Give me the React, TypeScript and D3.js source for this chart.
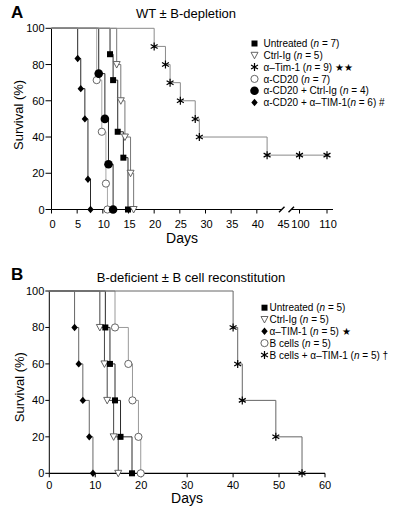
import React from "react";
import * as d3 from "d3";

// ---------- Panel A data (WT ± B-depletion) ----------
const untreatedADays = [11.4, 12, 12.9, 14, 14.9];
const untreatedASurv = [85.7, 71.4, 42.9, 28.6, 0];
const ctrlADays = [12.7, 13.5, 14.3, 15.4, 16];
const ctrlASurv = [80, 60, 40, 20, 0];
const tim1ADays = [20, 22.2, 23.1, 25.1, 28, 28.8, 42];
const tim1ASurv = [90, 80, 70, 60, 50, 40, 30];
const tim1ACensorDays = [100, 110];
const cd20ADays = [8.8, 9.8, 10.6, 10.9];
const cd20ASurv = [71.4, 42.9, 14.3, 0];
const cd20CtrlADays = [9.2, 10.4, 11.1, 12];
const cd20CtrlASurv = [75, 50, 25, 0];
const cd20TimADays = [5.1, 5.7, 6.5, 7.1, 7.6];
const cd20TimASurv = [83.3, 66.7, 50, 16.7, 0];

const xTicksA = [0, 5, 10, 15, 20, 25, 30, 35, 40, 45, 100, 110];
const yTicks = [0, 20, 40, 60, 80, 100];

// ---------- Panel B data (B-deficient ± B cell reconstitution) ----------
const untreatedBDays = [12.2, 13.2, 14.3, 15.5, 18];
const ctrlBDays = [11, 12, 12.6, 14, 15];
const timBDays = [5.5, 6.4, 7.3, 8.7, 9.5];
const bcellBDays = [14.3, 17.2, 18.1, 19.4, 19.9];
const bcellTimBDays = [40, 41, 42, 49.3, 55];
const survB = [80, 60, 40, 20, 0];
const xTicksB = [0, 10, 20, 30, 40, 50, 60];

const FONT = "'Liberation Sans', Arial, Helvetica, sans-serif";
const DARK = "#2a2a2a";
const MID = "#777";
const LIGHT = "#a8a8a8";

type Shape = "square" | "triangle" | "asterisk" | "circle" | "dot" | "diamond";

function Marker({ shape, x, y, big }: { shape: Shape; x: number; y: number; big?: boolean }) {
  switch (shape) {
    case "square":
      return <rect x={x - 3} y={y - 3} width={6} height={6} fill="#000" />;
    case "triangle":
      return (
        <path
          d={`M${x - 3.5},${y - 3} L${x + 3.5},${y - 3} L${x},${y + 3.5} Z`}
          fill="#fff"
          stroke="#555"
          strokeWidth={0.9}
        />
      );
    case "circle":
      return <circle cx={x} cy={y} r={3.6} fill="#fff" stroke="#555" strokeWidth={0.9} />;
    case "dot":
      return <circle cx={x} cy={y} r={big ? 4.3 : 3.8} fill="#000" />;
    case "diamond":
      return <path d={`M${x},${y - 3.7} L${x + 3.2},${y} L${x},${y + 3.7} L${x - 3.2},${y} Z`} fill="#000" />;
    case "asterisk": {
      const r = 4;
      const lines = [90, 30, 150].map((a) => {
        const rad = (a * Math.PI) / 180;
        const dx = r * Math.cos(rad);
        const dy = r * Math.sin(rad);
        return `M${x - dx},${y - dy} L${x + dx},${y + dy}`;
      });
      return <path d={lines.join(" ")} stroke="#000" strokeWidth={1.2} fill="none" />;
    }
  }
  return null;
}

type Series = {
  days: number[];
  surv: number[];
  shape: Shape;
  color: string;
  extra?: number[];
  extraSurv?: number;
  big?: boolean;
};

function Curves({
  series,
  x,
  y,
}: {
  series: Series[];
  x: (v: number) => number;
  y: (v: number) => number;
}) {
  const line = d3
    .line<[number, number]>()
    .x((d) => x(d[0]))
    .y((d) => y(d[1]))
    .curve(d3.curveStepAfter);
  return (
    <g>
      {series.map((s, i) => {
        const pts: [number, number][] = [[0, 100]];
        s.days.forEach((d, j) => pts.push([d, s.surv[j]]));
        if (s.extra) s.extra.forEach((d) => pts.push([d, s.extraSurv as number]));
        return <path key={"l" + i} d={line(pts) || ""} fill="none" stroke={s.color} strokeWidth={1} />;
      })}
      {series.map((s, i) => (
        <g key={"m" + i}>
          {s.days.map((d, j) => (
            <Marker key={j} shape={s.shape} x={x(d)} y={y(s.surv[j])} big={s.big} />
          ))}
          {s.extra &&
            s.extra.map((d, j) => (
              <Marker key={"e" + j} shape={s.shape} x={x(d)} y={y(s.extraSurv as number)} />
            ))}
        </g>
      ))}
    </g>
  );
}

function NLabel({ x, y, pre, n, post }: { x: number; y: number; pre: string; n: number; post?: string }) {
  return (
    <text x={x} y={y} fontSize={10} fontFamily={FONT} fill="#000">
      {pre}(<tspan fontStyle="italic">n</tspan> = {n}){post || ""}
    </text>
  );
}

export default function App() {
  // Panel A scales
  const xA = d3.scaleLinear().domain([0, 45, 100, 110]).range([51.5, 282.5, 299.5, 327]);
  const yA = d3.scaleLinear().domain([0, 100]).range([209.5, 28.3]);
  // Panel B scales
  const xB = d3.scaleLinear().domain([0, 60]).range([49.3, 325]);
  const yB = d3.scaleLinear().domain([0, 100]).range([473.3, 291]);

  const seriesA: Series[] = [
    { days: cd20TimADays, surv: cd20TimASurv, shape: "diamond", color: DARK },
    { days: cd20ADays, surv: cd20ASurv, shape: "circle", color: LIGHT },
    { days: cd20CtrlADays, surv: cd20CtrlASurv, shape: "dot", color: DARK, big: true },
    { days: untreatedADays, surv: untreatedASurv, shape: "square", color: DARK },
    { days: ctrlADays, surv: ctrlASurv, shape: "triangle", color: MID },
    {
      days: tim1ADays,
      surv: tim1ASurv,
      shape: "asterisk",
      color: "#8a8a8a",
      extra: tim1ACensorDays,
      extraSurv: 30,
    },
  ];

  const seriesB: Series[] = [
    { days: timBDays, surv: survB, shape: "diamond", color: "#666" },
    { days: ctrlBDays, surv: survB, shape: "triangle", color: "#444" },
    { days: untreatedBDays, surv: survB, shape: "square", color: DARK },
    { days: bcellBDays, surv: survB, shape: "circle", color: "#999" },
    { days: bcellTimBDays, surv: survB, shape: "asterisk", color: "#666" },
  ];

  const legendA: { shape: Shape; pre: string; n: number; post?: string }[] = [
    { shape: "square", pre: "Untreated ", n: 7 },
    { shape: "triangle", pre: "Ctrl-Ig ", n: 5 },
    { shape: "asterisk", pre: "\u03b1\u2013Tim-1 ", n: 9, post: " \u2605\u2605" },
    { shape: "circle", pre: "\u03b1-CD20 ", n: 7 },
    { shape: "dot", pre: "\u03b1-CD20 + Ctrl-Ig ", n: 4 },
    { shape: "diamond", pre: "\u03b1-CD20 + \u03b1\u2013TIM-1", n: 6, post: " #" },
  ];
  const legendB: { shape: Shape; pre: string; n: number; post?: string }[] = [
    { shape: "square", pre: "Untreated ", n: 5 },
    { shape: "triangle", pre: "Ctrl-Ig ", n: 5 },
    { shape: "diamond", pre: "\u03b1\u2013TIM-1 ", n: 5, post: " \u2605" },
    { shape: "circle", pre: "B cells ", n: 5 },
    { shape: "asterisk", pre: "B cells + \u03b1\u2013TIM-1 ", n: 5, post: " \u2020" },
  ];

  const axisColor = "#000";

  return (
    <svg
      width={405}
      height={513}
      style={{ position: "absolute", left: 0, top: 0, background: "#fff" }}
      fontFamily={FONT}
    >
      {/* ===== Panel A ===== */}
      <text x={11} y={18} fontSize={17} fontWeight="bold" fontFamily={FONT}>
        A
      </text>
      <text x={186} y={18} fontSize={13} textAnchor="middle" fontFamily={FONT}>
        WT ± B-depletion
      </text>
      {/* y axis */}
      <line x1={xA(0)} x2={xA(0)} y1={yA(0)} y2={yA(100)} stroke={axisColor} strokeWidth={1} />
      {yTicks.map((t) => (
        <g key={"ya" + t}>
          <line x1={xA(0) - 6} x2={xA(0)} y1={yA(t)} y2={yA(t)} stroke={axisColor} />
          <text x={xA(0) - 7} y={yA(t) + 4} fontSize={11} textAnchor="end">
            {t}
          </text>
        </g>
      ))}
      <text
        transform={`translate(23,${(yA(0) + yA(100)) / 2 - 4}) rotate(-90)`}
        fontSize={13}
        textAnchor="middle"
      >
        Survival (%)
      </text>
      {/* x axis with break */}
      <line x1={xA(0)} x2={xA(45) - 1} y1={yA(0)} y2={yA(0)} stroke={axisColor} strokeWidth={1.2} />
      <line x1={291} x2={333} y1={yA(0)} y2={yA(0)} stroke={axisColor} strokeWidth={1.2} />
      <line x1={279} x2={284.5} y1={yA(0) + 2.8} y2={yA(0) - 2.8} stroke={axisColor} strokeWidth={1.4} />
      <line x1={288.5} x2={294} y1={yA(0) + 2.8} y2={yA(0) - 2.8} stroke={axisColor} strokeWidth={1.4} />
      {xTicksA.map((t) => (
        <g key={"xa" + t}>
          {t !== 45 && (
            <line x1={xA(t)} x2={xA(t)} y1={yA(0)} y2={yA(0) + 4} stroke={axisColor} />
          )}
          <text x={xA(t) + 1} y={228} fontSize={11} textAnchor="middle">
            {t}
          </text>
        </g>
      ))}
      <text x={182} y={243} fontSize={14} textAnchor="middle">
        Days
      </text>
      <Curves series={seriesA} x={xA} y={yA} />
      {legendA.map((l, i) => {
        const cy = 43.5 + i * 11.8;
        return (
          <g key={"la" + i}>
            <Marker shape={l.shape} x={254.5} y={cy} big={l.shape === "dot"} />
            <NLabel x={263.5} y={cy + 3.6} pre={l.pre} n={l.n} post={l.post} />
          </g>
        );
      })}

      {/* ===== Panel B ===== */}
      <text x={11} y={280} fontSize={17} fontWeight="bold" fontFamily={FONT}>
        B
      </text>
      <text x={191} y={282} fontSize={13} textAnchor="middle" fontFamily={FONT}>
        B-deficient ± B cell reconstitution
      </text>
      <line x1={xB(0)} x2={xB(0)} y1={yB(0)} y2={yB(100)} stroke={axisColor} strokeWidth={1} />
      {yTicks.map((t) => (
        <g key={"yb" + t}>
          <line x1={xB(0) - 4} x2={xB(0)} y1={yB(t)} y2={yB(t)} stroke={axisColor} />
          <text x={xB(0) - 5} y={yB(t) + 4} fontSize={11} textAnchor="end">
            {t}
          </text>
        </g>
      ))}
      <text
        transform={`translate(24,${(yB(0) + yB(100)) / 2 + 5}) rotate(-90)`}
        fontSize={13}
        textAnchor="middle"
      >
        Survival (%)
      </text>
      <line x1={xB(0)} x2={xB(60)} y1={yB(0)} y2={yB(0)} stroke={axisColor} strokeWidth={1.2} />
      {xTicksB.map((t) => (
        <g key={"xb" + t}>
          <line x1={xB(t)} x2={xB(t)} y1={yB(0)} y2={yB(0) + 4} stroke={axisColor} />
          <text x={xB(t)} y={489} fontSize={11} textAnchor="middle">
            {t}
          </text>
        </g>
      ))}
      <text x={187} y={503} fontSize={14} textAnchor="middle">
        Days
      </text>
      <Curves series={seriesB} x={xB} y={yB} />
      {legendB.map((l, i) => {
        const cy = 307.7 + i * 11.8;
        return (
          <g key={"lb" + i}>
            <Marker shape={l.shape} x={264.5} y={cy} />
            <NLabel x={269.5} y={cy + 3.6} pre={l.pre} n={l.n} post={l.post} />
          </g>
        );
      })}
    </svg>
  );
}
